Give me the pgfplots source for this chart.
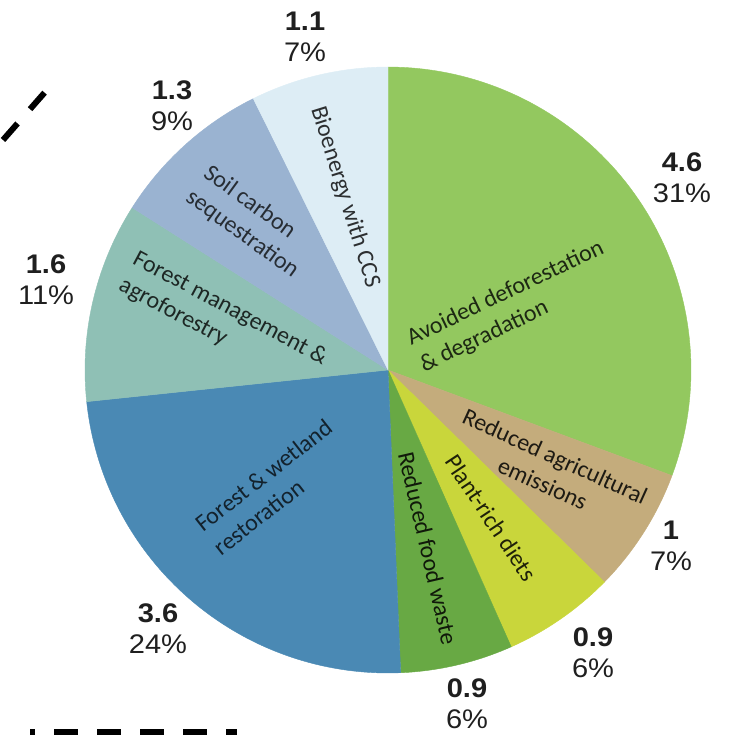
\documentclass[border=0pt]{standalone}
\usepackage{pgfplots}
\pgfplotsset{compat=1.18}
\usepackage{pgfplotstable}
\usepackage{fontspec}
\setmainfont{Liberation Sans}
\newfontfamily\valfont[FakeStretch=1.08]{Liberation Sans}
\newfontfamily\labfont{Carlito}

\definecolor{c0}{HTML}{93C85F}
\definecolor{c1}{HTML}{C4AC7C}
\definecolor{c2}{HTML}{C9D63B}
\definecolor{c3}{HTML}{68A944}
\definecolor{c4}{HTML}{4A89B4}
\definecolor{c5}{HTML}{8FC0B5}
\definecolor{c6}{HTML}{9AB3D1}
\definecolor{c7}{HTML}{DDEDF5}

% value (Gt CO2e / yr), share (%)
\pgfplotstableread{
value pct
4.6 31
1.0 7
0.9 6
0.9 6
3.6 24
1.6 11
1.3 9
1.1 7
}\piedata

\begin{document}
\begin{tikzpicture}
% total and cumulative angles (start at 12 o'clock, clockwise)
\def\total{0}
\pgfplotsforeachungrouped \i in {0,...,7}{%
  \pgfplotstablegetelem{\i}{value}\of\piedata
  \pgfmathsetmacro\tmp{\total+\pgfplotsretval}%
  \xdef\total{\tmp}%
}
\def\cumang{90}
\pgfplotsforeachungrouped \i in {0,...,7}{%
  \pgfplotstablegetelem{\i}{value}\of\piedata
  \pgfmathsetmacro\tmpend{\cumang-360*\pgfplotsretval/\total}%
  \expandafter\xdef\csname s\i\endcsname{\cumang}%
  \expandafter\xdef\csname e\i\endcsname{\tmpend}%
  \xdef\cumang{\tmpend}%
}
\begin{axis}[
  scale only axis, width=731bp, height=742bp,
  xmin=0, xmax=731, ymin=0, ymax=742, y dir=reverse,
  hide axis, clip=false,
]
\pgfplotsinvokeforeach{0,...,7}{%
  \addplot[fill=c#1, draw=c#1, line width=0.4bp, domain=\csname e#1\endcsname:\csname s#1\endcsname, samples=80, variable=\t]
    ({388+303*cos(\t)},{370-303*sin(\t)}) -- (axis cs:388,370) -- cycle;
}

% outer value labels
\tikzset{vl/.style={align=center, font=\valfont\fontsize{27}{31}\selectfont, text=black!88, inner sep=0pt}}
\node[vl] at (axis cs:305,37) {\textbf{1.1}\\7\%};
\node[vl] at (axis cs:172,106) {\textbf{1.3}\\9\%};
\node[vl] at (axis cs:46,280) {\textbf{1.6}\\11\%};
\node[vl] at (axis cs:682,178) {\textbf{4.6}\\31\%};
\node[vl] at (axis cs:671,546) {\textbf{1}\\7\%};
\node[vl] at (axis cs:593,653) {\textbf{0.9}\\6\%};
\node[vl] at (axis cs:467,704) {\textbf{0.9}\\6\%};
\node[vl] at (axis cs:158,629) {\textbf{3.6}\\24\%};

% inner slice labels
\tikzset{il/.style={font=\labfont\fontsize{24}{30}\selectfont, inner sep=0pt}}
\node[il, align=left, text=black!80!c0, rotate=25.5] at (axis cs:512,307) {Avoided deforestation\\\& degradation};
\node[il, align=center, text=black!85!c1, rotate=-24.4] at (axis cs:549,470) {Reduced agricultural\\emissions};
\node[il, text=black!85!c2, rotate=-56.5] at (axis cs:491,518) {Plant-rich diets};
\node[il, text=black!85!c3, rotate=-77] at (axis cs:428,548) {Reduced food waste};
\node[il, align=left, text=black!75!c4, rotate=38] at (axis cs:273,487) {Forest \& wetland\\restoration};
\node[il, align=left, text=black!80!c5, rotate=-28] at (axis cs:223,322) {Forest management \&\\agroforestry};
\node[il, align=left, text=black!75!c6, rotate=-36] at (axis cs:251,222) {Soil carbon\\sequestration};
\node[il, text=black!80!c7, rotate=-72.7] at (axis cs:345,197) {Bioenergy with CCS};

% cropped dashed strokes at the edges of the scan
\draw[line width=6bp, dash pattern=on 22bp off 19bp] (axis cs:3,140) -- (axis cs:46,91);
\draw[line width=6bp, dash pattern=on 24bp off 19bp, dash phase=19bp] (axis cs:30,732) -- (axis cs:237,732);

\coordinate (bl) at (axis cs:0,742);
\coordinate (tr) at (axis cs:731,0);
\end{axis}
\pgfresetboundingbox
\path (bl) rectangle (tr);
\end{tikzpicture}
\end{document}
